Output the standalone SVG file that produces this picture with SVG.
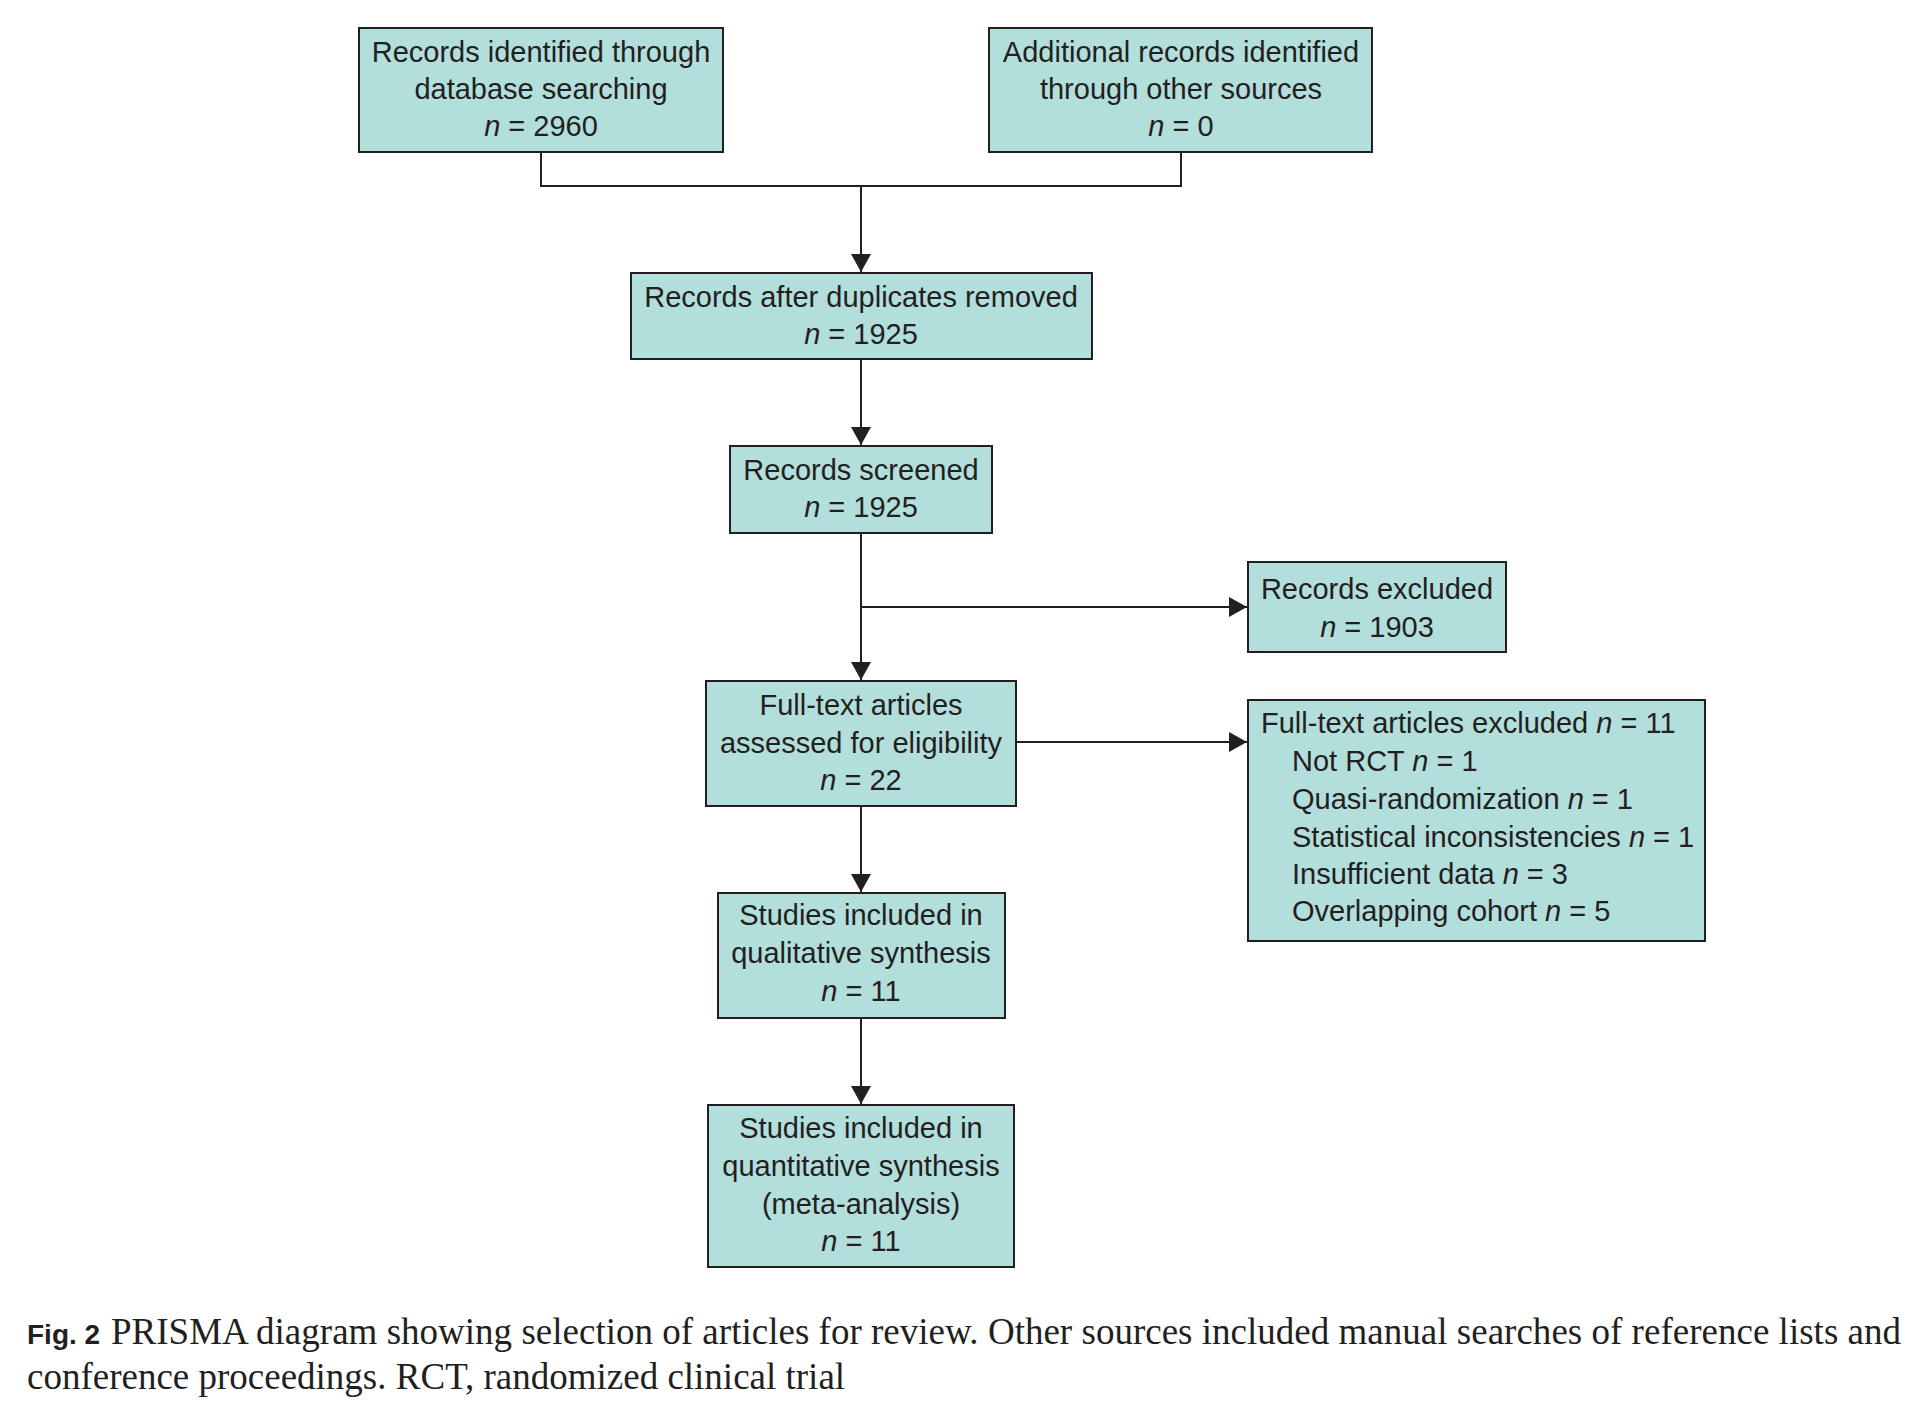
<svg xmlns="http://www.w3.org/2000/svg" width="1928" height="1426" viewBox="0 0 1928 1426">
<style>
.box{fill:#b2dedb;stroke:#231f20;stroke-width:2}
.t{font-family:"Liberation Sans",Arial,sans-serif;font-size:29px;fill:#231f20}
.c{text-anchor:middle}
.i{font-style:italic}
.line{fill:none;stroke:#231f20;stroke-width:2}
.cap{font-family:"Liberation Serif","Times New Roman",serif;font-size:37px;fill:#231f20}
.fig{font-family:"Liberation Sans",Arial,sans-serif;font-size:28px;font-weight:bold;fill:#231f20}
</style>
<defs>
<marker id="ah" markerUnits="userSpaceOnUse" markerWidth="20" markerHeight="20" viewBox="0 0 18 20" refX="18" refY="10" orient="auto">
<path d="M0,0 L18,10 L0,20 Z" fill="#231f20"/>
</marker>
</defs>
<rect width="1928" height="1426" fill="#ffffff"/>
<g id="connectors">
<polyline class="line" points="541,152 541,186 1181,186 1181,152"/>
<line class="line" x1="861" y1="186" x2="861" y2="272" marker-end="url(#ah)"/>
<line class="line" x1="861" y1="359" x2="861" y2="445" marker-end="url(#ah)"/>
<line class="line" x1="861" y1="533" x2="861" y2="680" marker-end="url(#ah)"/>
<line class="line" x1="861" y1="607" x2="1247" y2="607" marker-end="url(#ah)"/>
<line class="line" x1="1016" y1="742" x2="1247" y2="742" marker-end="url(#ah)"/>
<line class="line" x1="861" y1="806" x2="861" y2="892" marker-end="url(#ah)"/>
<line class="line" x1="861" y1="1018" x2="861" y2="1104" marker-end="url(#ah)"/>
</g>
<g id="n1">
<rect class="box" x="359" y="28" width="364" height="124"/>
<text class="t c" x="541" y="62">Records identified through</text>
<text class="t c" x="541" y="99">database searching</text>
<text class="t c" x="541" y="136"><tspan class="i">n</tspan> = 2960</text>
</g>
<g id="n2">
<rect class="box" x="989" y="28" width="383" height="124"/>
<text class="t c" x="1181" y="62">Additional records identified</text>
<text class="t c" x="1181" y="99">through other sources</text>
<text class="t c" x="1181" y="136"><tspan class="i">n</tspan> = 0</text>
</g>
<g id="n3">
<rect class="box" x="631" y="273" width="461" height="86"/>
<text class="t c" x="861" y="307">Records after duplicates removed</text>
<text class="t c" x="861" y="344"><tspan class="i">n</tspan> = 1925</text>
</g>
<g id="n4">
<rect class="box" x="730" y="446" width="262" height="87"/>
<text class="t c" x="861" y="480">Records screened</text>
<text class="t c" x="861" y="517"><tspan class="i">n</tspan> = 1925</text>
</g>
<g id="n5">
<rect class="box" x="1248" y="562" width="258" height="90"/>
<text class="t c" x="1377" y="599">Records excluded</text>
<text class="t c" x="1377" y="637"><tspan class="i">n</tspan> = 1903</text>
</g>
<g id="n6">
<rect class="box" x="706" y="681" width="310" height="125"/>
<text class="t c" x="861" y="715">Full-text articles</text>
<text class="t c" x="861" y="753">assessed for eligibility</text>
<text class="t c" x="861" y="790"><tspan class="i">n</tspan> = 22</text>
</g>
<g id="n7">
<rect class="box" x="1248" y="700" width="457" height="241"/>
<text class="t" x="1261" y="733">Full-text articles excluded <tspan class="i">n</tspan> = 11</text>
<text class="t" x="1292" y="771">Not RCT <tspan class="i">n</tspan> = 1</text>
<text class="t" x="1292" y="809">Quasi-randomization <tspan class="i">n</tspan> = 1</text>
<text class="t" x="1292" y="847">Statistical inconsistencies <tspan class="i">n</tspan> = 1</text>
<text class="t" x="1292" y="884">Insufficient data <tspan class="i">n</tspan> = 3</text>
<text class="t" x="1292" y="921">Overlapping cohort <tspan class="i">n</tspan> = 5</text>
</g>
<g id="n8">
<rect class="box" x="718" y="893" width="287" height="125"/>
<text class="t c" x="861" y="925">Studies included in</text>
<text class="t c" x="861" y="963">qualitative synthesis</text>
<text class="t c" x="861" y="1001"><tspan class="i">n</tspan> = 11</text>
</g>
<g id="n9">
<rect class="box" x="708" y="1105" width="306" height="162"/>
<text class="t c" x="861" y="1138">Studies included in</text>
<text class="t c" x="861" y="1176">quantitative synthesis</text>
<text class="t c" x="861" y="1214">(meta-analysis)</text>
<text class="t c" x="861" y="1251"><tspan class="i">n</tspan> = 11</text>
</g>
<g id="caption">
<text class="fig" x="27" y="1344">Fig. 2</text>
<text class="cap" x="111" y="1344" textLength="1790">PRISMA diagram showing selection of articles for review. Other sources included manual searches of reference lists and</text>
<text class="cap" x="27" y="1389">conference proceedings. RCT, randomized clinical trial</text>
</g>
</svg>
